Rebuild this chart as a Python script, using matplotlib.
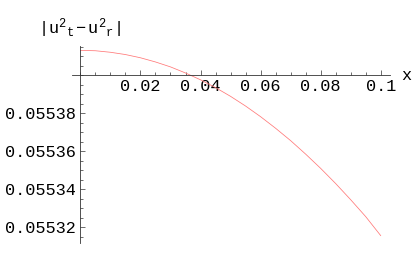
import matplotlib
matplotlib.use("Agg")
import matplotlib.pyplot as plt
from matplotlib.ticker import MultipleLocator, FixedLocator

# values
x_vals = [0.0, 0.005, 0.01, 0.015, 0.02, 0.025, 0.03, 0.035, 0.04, 0.045, 0.05,
          0.055, 0.06, 0.065, 0.07, 0.075, 0.08, 0.085, 0.09, 0.095, 0.1]
y_vals = [0.0554130, 0.0554128, 0.0554120, 0.0554108, 0.0554091, 0.0554069,
          0.0554043, 0.0554011, 0.0553975, 0.0553934, 0.0553888, 0.0553837,
          0.0553781, 0.0553720, 0.0553655, 0.0553584, 0.0553509, 0.0553429,
          0.0553344, 0.0553255, 0.0553155]
x_ticks = [0.02, 0.04, 0.06, 0.08, 0.1]
x_tick_labels = ["0.02", "0.04", "0.06", "0.08", "0.1"]
y_ticks = [0.05532, 0.05534, 0.05536, 0.05538]
y_tick_labels = ["0.05532", "0.05534", "0.05536", "0.05538"]
y_origin = 0.0554

plt.rcParams['mathtext.fontset'] = 'custom'
plt.rcParams['mathtext.rm'] = 'Liberation Mono'
plt.rcParams['mathtext.it'] = 'Liberation Mono'

fig = plt.figure(figsize=(4.16, 2.57), dpi=100)
ax = fig.add_axes([72/416, 14/257, 318/416, 197/257])

ax.plot(x_vals, y_vals, color='#ff7878', linewidth=0.55)

ax.set_xlim(-0.0028, 0.1031)
ax.set_ylim(0.0553116, 0.0554153)

ax.spines['top'].set_visible(False)
ax.spines['right'].set_visible(False)
ax.spines['left'].set_position(('data', 0))
ax.spines['bottom'].set_position(('data', y_origin))
for s in ['left', 'bottom']:
    ax.spines[s].set_color('#333333')
    ax.spines[s].set_linewidth(0.6)

ax.xaxis.set_major_locator(FixedLocator(x_ticks))
ax.set_xticklabels(x_tick_labels)
ax.xaxis.set_minor_locator(MultipleLocator(0.005))
ax.yaxis.set_major_locator(FixedLocator(y_ticks))
ax.set_yticklabels(y_tick_labels)
ax.yaxis.set_minor_locator(MultipleLocator(0.000005))

ax.tick_params(which='major', direction='in', length=3.5, width=0.5, color='#333333', pad=3)
ax.tick_params(axis='y', which='major', pad=3.5)
ax.tick_params(which='minor', direction='in', length=2, width=0.5, color='#333333')
for lab in ax.get_xticklabels() + ax.get_yticklabels():
    lab.set_family('Liberation Mono')
    lab.set_fontsize(12.2)

ax.text(0.1084, y_origin, "x", fontsize=12.2, family='Liberation Mono',
        ha='center', va='center')
fig.text(80/416, 1 - 28/257, r'$\mathrm{|u^{2}{}_{t}-u^{2}{}_{r}|}$', fontsize=12.2,
         ha='center', va='center')

fig.savefig("out.png", dpi=100)
